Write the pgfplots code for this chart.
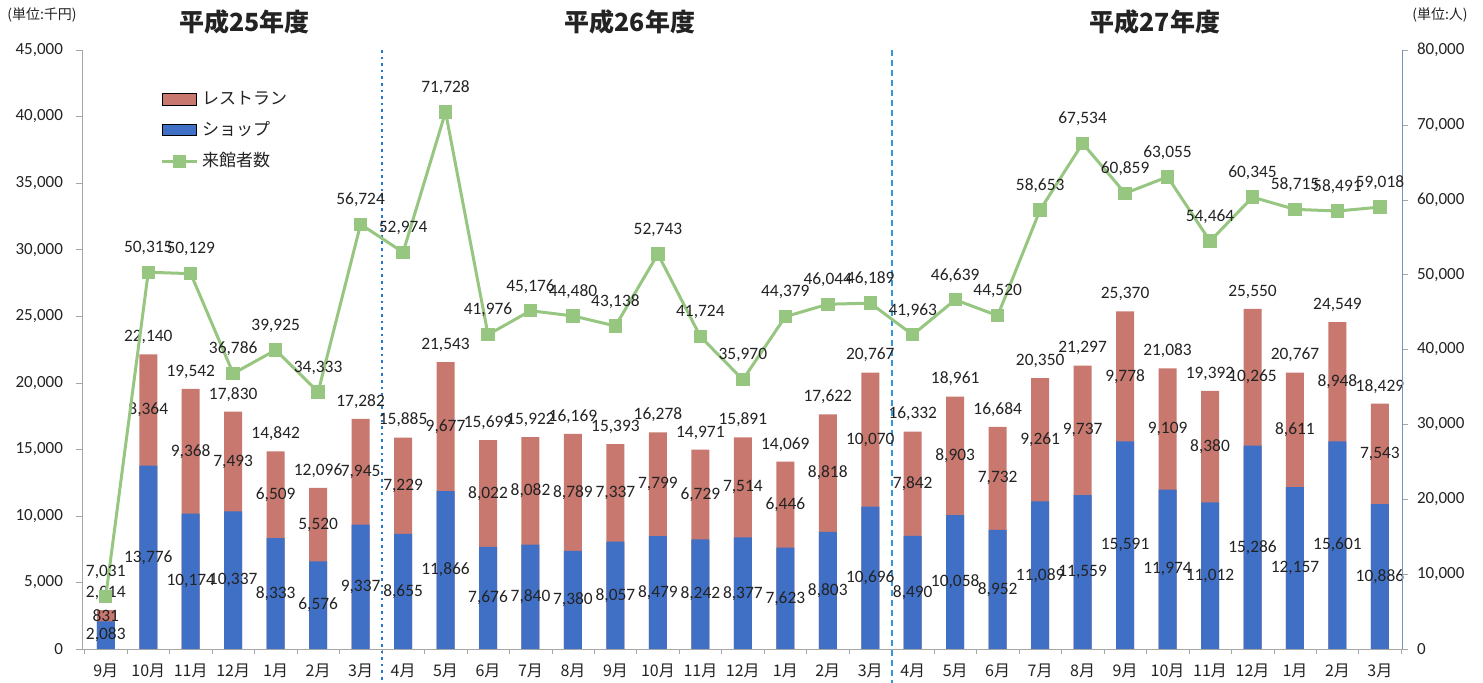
\documentclass[border=0pt]{standalone}
\usepackage{pgfplots}
\pgfplotsset{compat=1.18}
\usepackage{pgfplotstable}
\usepackage{fontspec}
\setmainfont{Carlito}
\newfontfamily\jp{Noto Sans CJK JP}
\definecolor{barred}{RGB}{200,120,110}
\definecolor{barblue}{RGB}{64,112,198}
\definecolor{lgreen}{RGB}{150,198,128}
\definecolor{divblue}{RGB}{40,120,205}
\definecolor{div2}{RGB}{50,150,225}
\definecolor{raxis}{RGB}{120,145,185}
\definecolor{txt}{RGB}{35,35,35}

\pgfplotstableread{
x shop rest total vis
0 2083 831 2914 7031
1 13776 8364 22140 50315
2 10174 9368 19542 50129
3 10337 7493 17830 36786
4 8333 6509 14842 39925
5 6576 5520 12096 34333
6 9337 7945 17282 56724
7 8655 7229 15885 52974
8 11866 9677 21543 71728
9 7676 8022 15699 41976
10 7840 8082 15922 45176
11 7380 8789 16169 44480
12 8057 7337 15393 43138
13 8479 7799 16278 52743
14 8242 6729 14971 41724
15 8377 7514 15891 35970
16 7623 6446 14069 44379
17 8803 8818 17622 46044
18 10696 10070 20767 46189
19 8490 7842 16332 41963
20 10058 8903 18961 46639
21 8952 7732 16684 44520
22 11089 9261 20350 58653
23 11559 9737 21297 67534
24 15591 9778 25370 60859
25 11974 9109 21083 63055
26 11012 8380 19392 54464
27 15286 10265 25550 60345
28 12157 8611 20767 58715
29 15601 8948 24549 58491
30 10886 7543 18429 59018
}\data

\pgfplotsset{
  common/.style={
    scale only axis, width=660pt, height=299.5pt,
    at={(41pt,17pt)}, anchor=south west,
    xmin=-0.56, xmax=30.52,
    /pgf/number format/assume math mode=true,
    /pgf/number format/1000 sep={,},
    scaled y ticks=false,
    tick align=outside,
    major tick length=3pt,
    minor tick length=2.5pt,
    ticklabel style={text=txt},
    clip=false,
  },
  lab/.style={only marks, mark=square*, mark size=0pt, mark options={draw=none,fill=none}, forget plot,
    nodes near coords, point meta=explicit,
    every node near coord/.append style={anchor=center, text=txt, font=\fontsize{8.7}{10}\selectfont, inner sep=0pt}},
}

\begin{document}
\begin{tikzpicture}
\useasboundingbox (0,0) rectangle (741.5pt,341.5pt);
\begin{axis}[common,
  ymin=0, ymax=45000, ytick={0,5000,...,45000},
  axis y line*=left, axis x line*=bottom,
  axis line style={draw=gray!70},
  y tick style={draw=gray!70},
  yticklabel style={font=\fontsize{8.5}{10}\selectfont, xshift=-3pt},
  xtick={0,...,30},
  xticklabels={9月,10月,11月,12月,1月,2月,3月,4月,5月,6月,7月,8月,9月,10月,11月,12月,1月,2月,3月,4月,5月,6月,7月,8月,9月,10月,11月,12月,1月,2月,3月},
  xticklabel style={font=\jp\fontsize{8}{9}\selectfont, yshift=-1pt},
  major x tick style={draw=none},
  minor xtick={-0.5,0.5,...,30.5},
  minor x tick style={draw=gray!70},
  legend style={at={(0.055,0.945)}, anchor=north west, draw=none, fill=none,
    font=\jp\fontsize{8.5}{10}\selectfont, row sep=3pt, text=txt},
  legend cell align=left,
]
\addplot[ybar, bar width=9pt, bar shift=0pt, fill=barred, draw=none, area legend] table[x=x,y=total]{\data};
\addlegendentry{レストラン}
\addplot[ybar, bar width=9pt, bar shift=0pt, fill=barblue, draw=none, area legend] table[x=x,y=shop]{\data};
\addlegendentry{ショップ}
\addlegendimage{lgreen, line width=1.5pt, mark=square*, mark size=2.6pt, mark options={fill=lgreen}}
\addlegendentry{来館者数}
% labels
\addplot[lab] table[x=x, y expr=\thisrow{shop}/2, meta=shop]{\data};
\addplot[lab] table[x=x, y expr=\thisrow{shop}+\thisrow{rest}/2, meta=rest]{\data};
\addplot[lab, every node near coord/.append style={anchor=south, yshift=5pt}] table[x=x, y=total, meta=total]{\data};
% dividers
\draw[divblue, line width=1.3pt, dotted] (axis cs:6.5,45000) -- ([yshift=-17pt]axis cs:6.5,0);
\draw[div2, line width=1pt, dash pattern=on 3pt off 2pt] (axis cs:18.5,45000) -- ([yshift=-17pt]axis cs:18.5,0);
% headers
\node[font=\jp\bfseries\fontsize{12.5}{14}\selectfont, text=txt] at ([yshift=14pt]axis cs:3.27,45000) {平成25年度};
\node[font=\jp\bfseries\fontsize{12.5}{14}\selectfont, text=txt] at ([yshift=14pt]axis cs:12.34,45000) {平成26年度};
\node[font=\jp\bfseries\fontsize{12.5}{14}\selectfont, text=txt] at ([yshift=14pt]axis cs:24.7,45000) {平成27年度};
\end{axis}

\begin{axis}[common,
  ymin=0, ymax=80000, ytick={0,10000,...,80000},
  axis y line*=right, axis x line=none,
  axis line style={draw=raxis},
  y tick style={draw=gray!70},
  yticklabel style={font=\fontsize{8.5}{10}\selectfont, xshift=1pt},
]
\addplot[lgreen, line width=1.5pt, mark=square*, mark size=2.6pt, mark options={fill=lgreen},
  nodes near coords, point meta=explicit,
  every node near coord/.append style={anchor=south, yshift=7pt, text=txt, font=\fontsize{8.7}{10}\selectfont, inner sep=1pt}]
  table[x=x, y=vis, meta=vis]{\data};
\end{axis}

\node[font=\jp\fontsize{7}{8}\selectfont, text=txt] at (21pt,334pt) {(単位:千円)};
\node[font=\jp\fontsize{7}{8}\selectfont, text=txt] at (720pt,334pt) {(単位:人)};
\end{tikzpicture}
\end{document}
